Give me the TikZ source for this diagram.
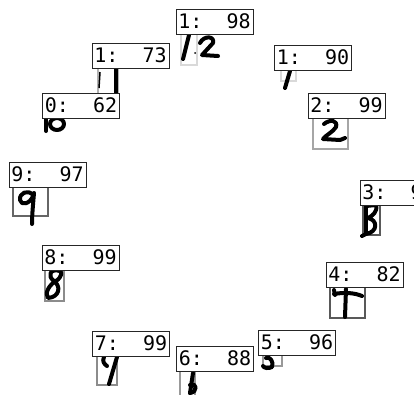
\documentclass[tikz,border=0pt]{standalone}
\usepackage{fontspec}
\setmonofont{DejaVu Sans Mono}
\usepackage{tikz}

\begin{document}
\begin{tikzpicture}[x=1pt, y=-1pt,
  lbl/.style={draw=black!85, fill=white, line width=0.9pt,
              minimum width=77pt, minimum height=25pt, inner sep=0pt,
              font=\ttfamily\fontsize{20}{20}\selectfont},
  dbox/.style={draw=#1, line width=1.8pt},
  ink/.style={black, line width=4pt, line cap=round, line join=round},
]
\useasboundingbox (0,0) rectangle (414,394);
\clip (0,0) rectangle (414,394);

% Digit boxes
\draw[dbox=black!15] (181,34) rectangle (197,65);
\draw[dbox=black!30] (98,68) rectangle (118,96);
\draw[dbox=black!15] (281,70) rectangle (296,81);
\draw[dbox=black!35] (313,118) rectangle (348,149);
\draw[dbox=black!60] (13,187) rectangle (48,216);
\draw[dbox=black!65] (363,204) rectangle (380,235);
\draw[dbox=black!45] (45,270) rectangle (64,301);
\draw[dbox=black!65] (330,287) rectangle (365,318);
\draw[dbox=black!45] (97,356) rectangle (117,385);
\draw[dbox=black!40] (180,371) rectangle (195,400);
\draw[dbox=black!40] (263,355) rectangle (282,366);

% Handwritten digits
\draw[ink] (189,35) -- (183,59);
\draw[ink] (200,43) .. controls (204,35) and (215,36) .. (213,43) -- (202,55) -- (218,56);
\fill (195,53) circle (1pt);
\draw[ink] (116,66) -- (116,95);
\draw[black, line width=1.5pt] (100,72) -- (99,88);
\draw[ink] (290,71) -- (285,88);
\draw[ink] (46,116) -- (46,131);
\draw[ink] (57,124) ellipse [x radius=7pt, y radius=6pt];
\draw[ink] (324,124) .. controls (330,119) and (338,120) .. (336,127)
  .. controls (333,132) and (326,135) .. (323,139) -- (340,140) -- (345,138);
\draw[ink] (33,195) .. controls (28,189) and (19,193) .. (20,200)
  .. controls (21,206) and (30,204) .. (33,196);
\draw[ink] (34,193) .. controls (33,205) and (32,215) .. (32,224);
\draw[ink] (366,206) -- (366,233);
\draw[ink] (366,206) -- (376,205) .. controls (378,212) and (372,216) .. (368,218)
  .. controls (378,220) and (378,232) .. (366,234) -- (362,236);
\draw[ink] (60,271) .. controls (50,268) and (47,276) .. (54,281)
  .. controls (61,286) and (60,297) .. (48,298)
  .. controls (44,293) and (50,284) .. (56,281)
  .. controls (62,277) and (62,272) .. (60,271);
\draw[ink] (334,294) .. controls (345,292) and (355,293) .. (362,296);
\draw[ink] (346,289) -- (345,317);
\draw[ink] (334,290) -- (335,295);
\draw[ink] (117,357) -- (109,384);
\draw[ink] (104,357) .. controls (102,361) and (104,364) .. (107,366);
\draw[ink] (193,373) -- (190,393);
\draw[ink] (190,385) .. controls (197,382) and (198,392) .. (190,393);
\draw[ink] (266,358) .. controls (270,356) and (274,362) .. (272,367)
  .. controls (268,369) and (264,368) .. (263,366);

% Score labels
\foreach \n/\cx/\cy/\txt in {
  12/214.5/21.5/{1:~~98}, 11/130.5/55.5/{1:~~73}, 1/313/57.5/{1:~~90},
  10/81/105.5/{0:~~62}, 2/346.5/105.5/{2:~~99}, 9/47.5/174.5/{9:~~97},
  3/398.5/192.5/{3:~~9\phantom{0}}, 8/80.5/257.5/{8:~~99},
  4/364.5/274.5/{4:~~82}, 7/131/343.5/{7:~~99},
  6/215/358.5/{6:~~88}, 5/297/342.5/{5:~~96}}
{
  \node[lbl] (lab\n) at (\cx,\cy) {\txt};
}
\end{tikzpicture}
\end{document}
